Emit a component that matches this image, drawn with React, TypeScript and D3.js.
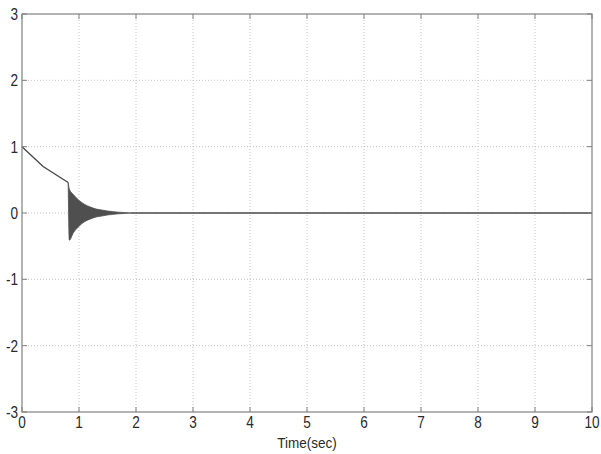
import React, { useRef, useEffect } from "react";
import * as d3 from "d3";

// values
const xTicks = [0, 1, 2, 3, 4, 5, 6, 7, 8, 9, 10];
const yTicks = [-3, -2, -1, 0, 1, 2, 3];

// smooth part of the response before the switch
const headTime = [0, 0.37, 0.81];
const headValue = [1, 0.7, 0.46];

// settled part
const tailTime = [1.9, 10];
const tailValue = [0, 0];

// envelope of the fast oscillation after the switch
const bandTime = [0.81, 0.83, 0.9, 1.0, 1.1, 1.2, 1.3, 1.4, 1.5, 1.6, 1.7, 1.8, 1.9];
const bandUpper = [0.46, 0.36, 0.28, 0.19, 0.13, 0.09, 0.06, 0.045, 0.03, 0.02, 0.012, 0.006, 0];
const bandLower = [0.46, -0.41, -0.3, -0.2, -0.13, -0.09, -0.06, -0.045, -0.03, -0.02, -0.012, -0.006, 0];

export default function App() {
  const ref = useRef<SVGSVGElement | null>(null);

  useEffect(() => {
    document.body.style.margin = "0";
    const width = 601,
      height = 454;
    const margin = { top: 14, right: 9, bottom: 42, left: 22 };
    const w = width - margin.left - margin.right,
      h = height - margin.top - margin.bottom;

    const svg = d3.select(ref.current);
    svg.selectAll("*").remove();
    const g = svg.append("g").attr("transform", "translate(" + margin.left + "," + margin.top + ")");

    const x = d3.scaleLinear().domain([0, 10]).range([0, w]);
    const y = d3.scaleLinear().domain([-3, 3]).range([h, 0]);

    // dotted grid
    g.selectAll(".gx")
      .data(xTicks.slice(1, -1))
      .enter()
      .append("line")
      .attr("x1", (d) => x(d))
      .attr("x2", (d) => x(d))
      .attr("y1", 0)
      .attr("y2", h)
      .attr("stroke", "#c4c4c4")
      .attr("stroke-dasharray", "1,2");
    g.selectAll(".gy")
      .data(yTicks.slice(1, -1))
      .enter()
      .append("line")
      .attr("x1", 0)
      .attr("x2", w)
      .attr("y1", (d) => y(d))
      .attr("y2", (d) => y(d))
      .attr("stroke", "#c4c4c4")
      .attr("stroke-dasharray", "1,2");

    // oscillation band
    const band = bandTime.map((t, i) => ({ t, lo: bandLower[i], hi: bandUpper[i] }));
    g.append("path")
      .datum(band)
      .attr("fill", "#4f4f4f")
      .attr("stroke", "#4f4f4f")
      .attr("stroke-width", 0.8)
      .attr(
        "d",
        d3
          .area<any>()
          .x((d) => x(d.t))
          .y0((d) => y(d.lo))
          .y1((d) => y(d.hi))
          .curve(d3.curveMonotoneX)
      );

    // response line
    const line = d3
      .line<[number, number]>()
      .x((d) => x(d[0]))
      .y((d) => y(d[1]));
    [
      headTime.map((t, i) => [t, headValue[i]] as [number, number]),
      tailTime.map((t, i) => [t, tailValue[i]] as [number, number]),
    ].forEach((pts) => {
      g.append("path")
        .datum(pts)
        .attr("fill", "none")
        .attr("stroke", "#4a4a4a")
        .attr("stroke-width", 1.4)
        .attr("d", line);
    });

    // box
    g.append("rect")
      .attr("width", w)
      .attr("height", h)
      .attr("fill", "none")
      .attr("stroke", "#808080")
      .attr("stroke-width", 1.2);

    // inward ticks
    const tl = 5;
    xTicks.forEach((t) => {
      g.append("line").attr("x1", x(t)).attr("x2", x(t)).attr("y1", h).attr("y2", h - tl).attr("stroke", "#808080");
      g.append("line").attr("x1", x(t)).attr("x2", x(t)).attr("y1", 0).attr("y2", tl).attr("stroke", "#808080");
    });
    yTicks.forEach((t) => {
      g.append("line").attr("x1", 0).attr("x2", tl).attr("y1", y(t)).attr("y2", y(t)).attr("stroke", "#808080");
      g.append("line").attr("x1", w).attr("x2", w - tl).attr("y1", y(t)).attr("y2", y(t)).attr("stroke", "#808080");
    });

    const font = "'Liberation Sans', Arial, sans-serif";
    g.selectAll(".xl")
      .data(xTicks)
      .enter()
      .append("text")
      .attr("transform", (d) => "translate(" + x(d) + "," + (h + 16) + ") scale(0.8,1)")
      .attr("text-anchor", "middle")
      .attr("font-family", font)
      .attr("font-size", 17)
      .attr("fill", "#2a2a2a")
      .text((d) => String(d));
    g.selectAll(".yl")
      .data(yTicks)
      .enter()
      .append("text")
      .attr("transform", (d) => "translate(-4," + (y(d) + 6) + ") scale(0.8,1)")
      .attr("text-anchor", "end")
      .attr("font-family", font)
      .attr("font-size", 17)
      .attr("fill", "#2a2a2a")
      .text((d) => String(d));

    g.append("text")
      .attr("transform", "translate(" + w / 2 + "," + (h + 36) + ") scale(0.9,1)")
      .attr("text-anchor", "middle")
      .attr("font-family", font)
      .attr("font-size", 15)
      .attr("fill", "#2a2a2a")
      .text("Time(sec)");
  }, []);

  return <svg ref={ref} width={601} height={454} style={{ display: "block", background: "#fff" }}></svg>;
}
